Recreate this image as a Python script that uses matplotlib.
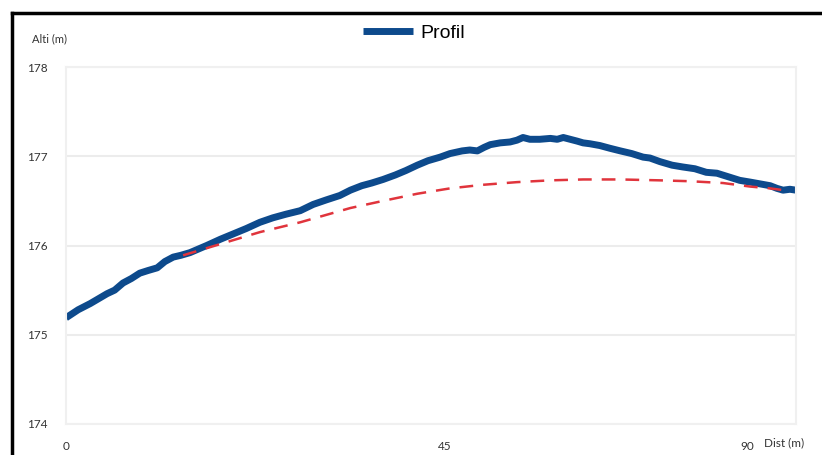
import matplotlib
matplotlib.use("Agg")
import matplotlib.pyplot as plt
from matplotlib.lines import Line2D

# Profile (distance in m, altitude in m)
dist = [0, 1.6, 3.2, 4.2, 5.4, 6.4, 7.5, 8.6, 9.7, 10.8, 12.0, 13.0, 14.1, 15.1, 16.3,
        17.4, 18.5, 20.3, 22.0, 23.7, 25.5, 27.2, 28.9, 30.8, 32.5, 34.2, 36.0, 37.4,
        38.9, 40.2, 41.7, 43.3, 44.7, 46.2, 47.6, 49.2, 50.5, 52.1, 53.1, 54.1, 55.0,
        55.8, 57.1, 58.4, 59.3, 60.1, 61.0, 62.3, 63.7, 64.6, 65.4, 66.3, 67.2, 68.0,
        68.9, 70.2, 71.5, 72.9, 74.4, 75.9, 76.8, 78.1, 79.7, 81.1, 82.7, 84.2, 85.6,
        87.1, 88.6, 90.0, 91.3, 92.6, 93.5, 94.3, 95.2, 96.0]
alti = [175.19, 175.28, 175.35, 175.40, 175.46, 175.50, 175.58, 175.63, 175.69, 175.72,
        175.75, 175.82, 175.87, 175.89, 175.92, 175.96, 176.00, 176.07, 176.13, 176.19,
        176.26, 176.31, 176.35, 176.39, 176.46, 176.51, 176.56, 176.62, 176.67, 176.70,
        176.74, 176.79, 176.84, 176.90, 176.95, 176.99, 177.03, 177.06, 177.07, 177.06,
        177.10, 177.13, 177.15, 177.16, 177.18, 177.21, 177.19, 177.19, 177.20, 177.19,
        177.21, 177.19, 177.17, 177.15, 177.14, 177.12, 177.09, 177.06, 177.03, 176.99,
        176.98, 176.94, 176.90, 176.88, 176.86, 176.82, 176.81, 176.77, 176.73, 176.71,
        176.69, 176.67, 176.64, 176.62, 176.63, 176.62]

# Reference curve (dashed red)
ref_dist = [15.4, 18.5, 22.0, 25.5, 30.8, 37.4, 41.7, 46.2, 50.5, 54.8, 59.3, 63.7,
            68.0, 72.9, 78.1, 82.1, 86.4, 90.0, 92.6, 95.2]
ref_alti = [175.89, 175.97, 176.06, 176.15, 176.26, 176.42, 176.50, 176.58, 176.64,
            176.68, 176.71, 176.73, 176.74, 176.74, 176.73, 176.72, 176.70, 176.66,
            176.64, 176.61]

y_ticks = [174, 175, 176, 177, 178]
x_tick_labels = ["0", "45", "90"]
x_tick_pos = [0, 49.8, 89.6]

W, H = 822, 455
fig = plt.figure(figsize=(W / 100, H / 100), dpi=100)
fig.patch.set_facecolor("white")

ax = fig.add_axes([66 / W, 1 - 424 / H, (796 - 66) / W, (424 - 67) / H])
ax.set_xlim(0, 96)
ax.set_ylim(174, 178)

ax.plot(ref_dist, ref_alti, color="#e0343c", lw=1.8, dashes=(5.5, 4), zorder=3)
ax.plot(dist, alti, color="#0d4a8c", lw=5, solid_capstyle="butt", zorder=2,
        label="Profil")

ax.set_yticks(y_ticks)
ax.set_yticklabels([str(v) for v in y_ticks], fontsize=8.5, color="#333333",
                   family=["Lato", "DejaVu Sans"])
ax.set_xticks(x_tick_pos)
ax.set_xticklabels(x_tick_labels, fontsize=8.5, color="#333333",
                   family=["Lato", "DejaVu Sans"])
ax.tick_params(length=0, axis="y", pad=13)
ax.tick_params(length=0, axis="x", pad=12)
ax.grid(axis="y", color="#ececec", lw=1.5)
for s in ax.spines.values():
    s.set_color("#f0f0f0")
    s.set_linewidth(1.5)
ax.set_axisbelow(True)

fig.text(32 / W, 1 - 39 / H, "Alti (m)", fontsize=8, color="#333333",
         family=["Lato", "DejaVu Sans"], va="center", ha="left")
fig.text(764 / W, 1 - 443 / H, "Dist (m)", fontsize=8.5, color="#333333",
         family=["Lato", "DejaVu Sans"], va="center", ha="left")

fig.legend(loc="center", bbox_to_anchor=(414 / W, 1 - 33 / H), frameon=False,
           handlelength=2.6, handletextpad=0.4,
           prop={"family": ["Liberation Sans", "DejaVu Sans"], "size": 14})

# Figure frame (left and top edges visible)
fx = 11.5 / W
fy = 1 - 12.5 / H
fig.add_artist(Line2D([fx, fx], [0, fy], transform=fig.transFigure,
                      color="black", lw=2.5, solid_capstyle="projecting"))
fig.add_artist(Line2D([fx, 1], [fy, fy], transform=fig.transFigure,
                      color="black", lw=2.5, solid_capstyle="projecting"))

fig.savefig("out.png", dpi=100)
